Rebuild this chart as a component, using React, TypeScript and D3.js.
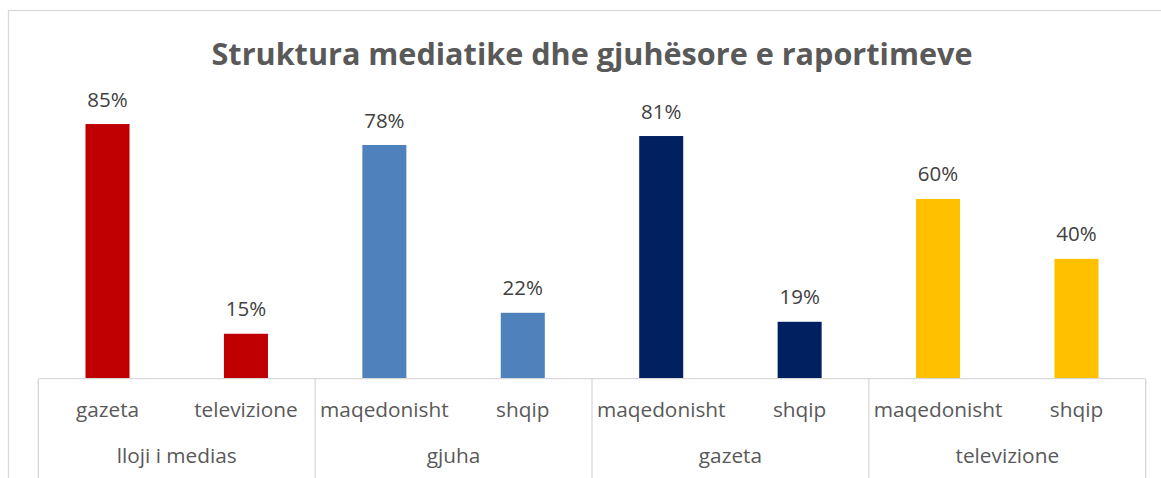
import React from "react";
import * as d3 from "d3";

const title = "Struktura mediatike dhe gjuhësore e raportimeve";
const groups = ["lloji i medias", "gjuha", "gazeta", "televizione"];
const subLabels = [
  ["gazeta", "televizione"],
  ["maqedonisht", "shqip"],
  ["maqedonisht", "shqip"],
  ["maqedonisht", "shqip"],
];
const values = [
  [85, 15],
  [78, 22],
  [81, 19],
  [60, 40],
];
const colors = ["#C00000", "#4F81BD", "#002060", "#FFC000"];

const W = 1161;
const H = 478;
const left = 38.3;
const right = 1145.7;
const baseY = 378.7;
const topY = 79.1;

export default function App() {
  const items = groups.flatMap((g, gi) =>
    subLabels[gi].map((s, si) => ({ key: `${gi}-${si}`, gi, si, label: s, value: values[gi][si], color: colors[gi] }))
  );
  const x = d3
    .scaleBand<string>()
    .domain(items.map((d) => d.key))
    .range([left, right])
    .paddingInner(0.682)
    .paddingOuter(0.341);
  const slot = d3
    .scaleBand<string>()
    .domain(items.map((d) => d.key))
    .range([left, right])
    .padding(0);
  const gx = d3.scaleBand<string>().domain(groups).range([left, right]).padding(0);
  const y = d3.scaleLinear().domain([0, 100]).range([baseY, topY]);
  const font = "'Open Sans', sans-serif";
  const sepXs = [left, ...groups.map((g) => (gx(g) as number) + gx.bandwidth())];

  return (
    <svg width={W} height={H} style={{ position: "absolute", left: 0, top: 0, background: "#fff" }}>
      <rect x={8.5} y={10.5} width={1300} height={700} fill="#fff" stroke="#d9d9d9" strokeWidth={1.3} />
      <text x={(left + right) / 2} y={65} textAnchor="middle" fontFamily={font} fontWeight={700} fontSize={30.6} fill="#595959">
        {title}
      </text>
      {items.map((d) => (
        <g key={d.key}>
          <rect x={x(d.key)} y={y(d.value)} width={x.bandwidth()} height={baseY - y(d.value)} fill={d.color} />
          <text
            x={(x(d.key) as number) + x.bandwidth() / 2}
            y={y(d.value) - 17.5}
            textAnchor="middle"
            fontFamily={font}
            fontSize={20.5}
            fill="#404040"
          >
            {d.value}%
          </text>
          <text
            x={(slot(d.key) as number) + slot.bandwidth() / 2}
            y={417}
            textAnchor="middle"
            fontFamily={font}
            fontSize={20.8}
            fill="#595959"
          >
            {d.label}
          </text>
        </g>
      ))}
      {groups.map((g) => (
        <text
          key={g}
          x={(gx(g) as number) + gx.bandwidth() / 2}
          y={463}
          textAnchor="middle"
          fontFamily={font}
          fontSize={20.8}
          fill="#595959"
        >
          {g}
        </text>
      ))}
      <line x1={left} x2={right} y1={baseY} y2={baseY} stroke="#d9d9d9" strokeWidth={1.3} />
      {sepXs.map((sx, i) => (
        <line key={i} x1={sx} x2={sx} y1={baseY} y2={H + 10} stroke="#d9d9d9" strokeWidth={1.3} />
      ))}
    </svg>
  );
}
